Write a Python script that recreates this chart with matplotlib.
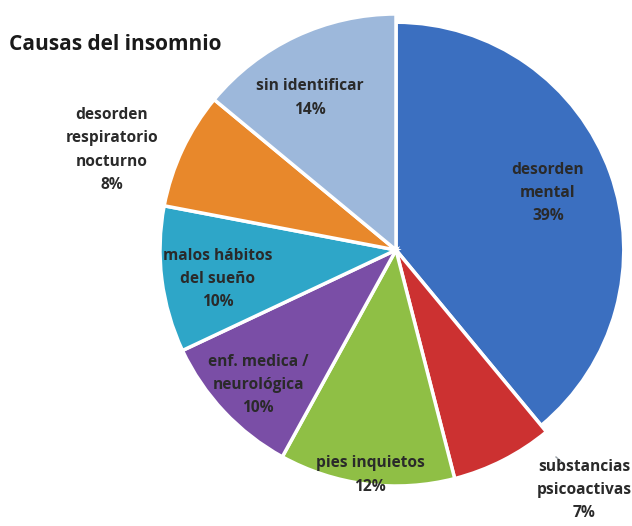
import matplotlib.pyplot as plt

# causes of insomnia, clockwise from 12 o'clock
causas = ["desorden\nmental", "substancias\npsicoactivas", "pies inquietos",
          "enf. medica /\nneurológica", "malos hábitos\ndel sueño",
          "desorden\nrespiratorio\nnocturno", "sin identificar"]
porcentajes = [39, 7, 12, 10, 10, 8, 14]
colores = ["#3b6fc0", "#cc3131", "#8fbf45", "#7a4ea6", "#2ea6c8", "#e8882b", "#9db8db"]

# label centres in pixel coordinates (x, y from top)
pos_etiquetas = [(548, 193), (584, 490), (370, 475), (258, 385),
                 (218, 279), (112, 150), (310, 98)]

W, H = 632, 526
fig = plt.figure(figsize=(W / 100, H / 100), dpi=100)
ax = fig.add_axes([0, 0, 1, 1])

cx, cy, r = 396, H - 250, 236
explode = [0.05] + [0] * (len(porcentajes) - 1)
wedges, _ = ax.pie(porcentajes, colors=colores, startangle=90, counterclock=False,
                   center=(cx, cy), radius=r, explode=explode,
                   wedgeprops=dict(edgecolor="white", linewidth=2.5))
# the exploded slice sits a little smaller so it stays inside the frame
wedges[0].set_radius(r * 0.965)

# pie() sets its own limits, so fix the pixel frame afterwards
ax.set_xlim(0, W)
ax.set_ylim(0, H)
ax.axis("off")

for nombre, v, (x, y) in zip(causas, porcentajes, pos_etiquetas):
    ax.text(x, H - y, f"{nombre}\n{v}%", ha="center", va="center",
            fontsize=11.2, fontweight="bold", color="#2a2a2a",
            family="Open Sans", linespacing=1.6)

# small leader line for the outside label
ax.plot([556, 564], [H - 457, H - 464], color="#9aa0a6", lw=1)

ax.text(9, H - 45, "Causas del insomnio", ha="left", va="center",
        fontsize=15, fontweight="bold", color="#1a1a1a", family="Open Sans")

fig.savefig("out.png", dpi=100)
